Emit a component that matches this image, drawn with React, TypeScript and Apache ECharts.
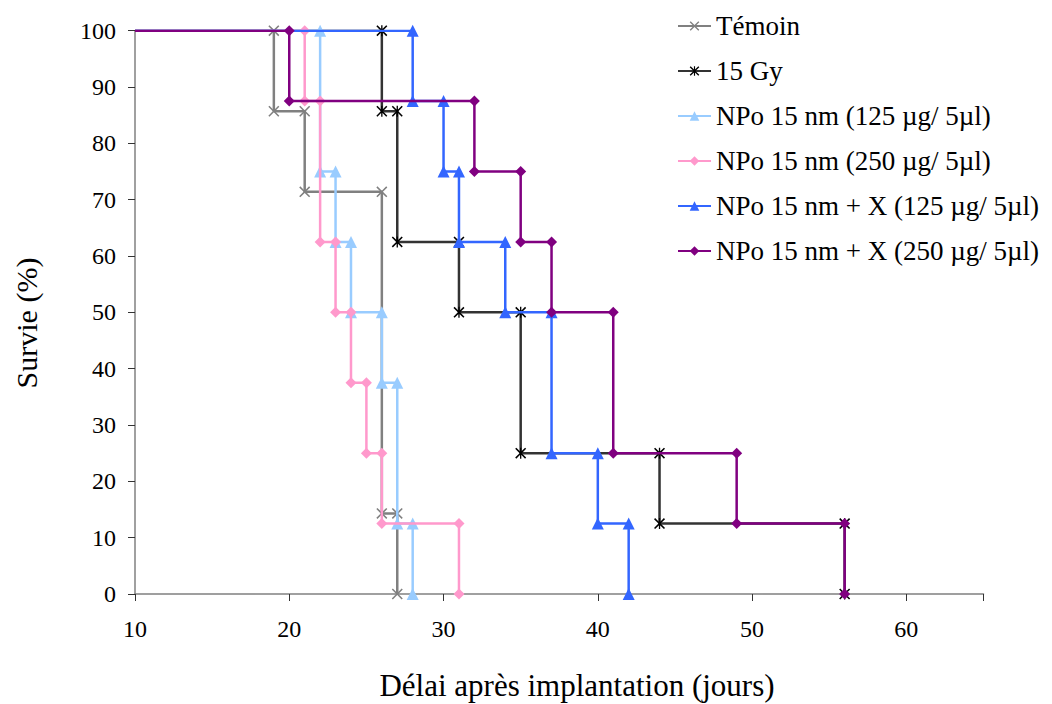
import React, { useEffect, useRef } from "react";
import * as echarts from "echarts";

const seriesNames = [
  "Témoin",
  "15 Gy",
  "NPo 15 nm (125 µg/ 5µl)",
  "NPo 15 nm (250 µg/ 5µl)",
  "NPo 15 nm + X (125 µg/ 5µl)",
  "NPo 15 nm + X (250 µg/ 5µl)",
];

const temoin: number[][] = [
  [10, 100], [19, 100], [19, 85.7], [21, 85.7], [21, 71.4], [26, 71.4], [26, 14.3], [27, 14.3], [27, 0],
];
const gy15: number[][] = [
  [10, 100], [26, 100], [26, 85.7], [27, 85.7], [27, 62.5], [31, 62.5], [31, 50], [35, 50], [35, 25],
  [44, 25], [44, 12.5], [56, 12.5], [56, 0],
];
const npo125: number[][] = [
  [10, 100], [22, 100], [22, 75], [23, 75], [23, 62.5], [24, 62.5], [24, 50], [26, 50], [26, 37.5],
  [27, 37.5], [27, 12.5], [28, 12.5], [28, 0],
];
const npo250: number[][] = [
  [10, 100], [21, 100], [21, 87.5], [22, 87.5], [22, 62.5], [23, 62.5], [23, 50], [24, 50], [24, 37.5],
  [25, 37.5], [25, 25], [26, 25], [26, 12.5], [31, 12.5], [31, 0],
];
const npoX125: number[][] = [
  [10, 100], [28, 100], [28, 87.5], [30, 87.5], [30, 75], [31, 75], [31, 62.5], [34, 62.5], [34, 50],
  [37, 50], [37, 25], [40, 25], [40, 12.5], [42, 12.5], [42, 0],
];
const npoX250: number[][] = [
  [10, 100], [20, 100], [20, 87.5], [32, 87.5], [32, 75], [35, 75], [35, 62.5], [37, 62.5], [37, 50],
  [41, 50], [41, 25], [49, 25], [49, 12.5], [56, 12.5], [56, 0],
];

const xTicks = [10, 20, 30, 40, 50, 60];
const yTicks = [0, 10, 20, 30, 40, 50, 60, 70, 80, 90, 100];

const CROSS =
  "path://M0,1L1,0L5,4L9,0L10,1L6,5L10,9L9,10L5,6L1,10L0,9L4,5Z";
const STAR =
  "path://M0,1L1,0L5,4L9,0L10,1L6,5L10,9L9,10L5,6L1,10L0,9L4,5Z M4.4,0L5.6,0L5.6,10L4.4,10Z";

const styles = [
  { line: "#808080", mark: "#808080", symbol: CROSS, size: 11 },
  { line: "#333333", mark: "#000000", symbol: STAR, size: 11 },
  { line: "#99CCFF", mark: "#99CCFF", symbol: "triangle", size: 12 },
  { line: "#FF99CC", mark: "#FF99CC", symbol: "diamond", size: 11 },
  { line: "#3366FF", mark: "#3366FF", symbol: "triangle", size: 12 },
  { line: "#800080", mark: "#800080", symbol: "diamond", size: 11 },
];

const allData = [temoin, gy15, npo125, npo250, npoX125, npoX250];

const FONT = "Liberation Serif";

export default function App() {
  const ref = useRef<HTMLDivElement>(null);
  useEffect(() => {
    if (!ref.current) return;
    const chart = echarts.init(ref.current, undefined, { renderer: "svg" });
    const series = allData.map((d, i) => ({
      name: seriesNames[i],
      type: "line",
      data: d.map((p, j) =>
        j === 0 ? { value: p, symbol: "none" } : { value: p }
      ),
      symbol: styles[i].symbol,
      symbolSize: styles[i].size,
      showAllSymbol: true,
      lineStyle: { color: styles[i].line, width: 2.5 },
      itemStyle: { color: styles[i].mark, borderWidth: 0 },
      emphasis: { disabled: true },
      z: 2 + i,
    }));
    chart.setOption({
      animation: false,
      textStyle: { fontFamily: FONT },
      grid: { left: 135, right: 68.5, top: 30.7, bottom: 110, containLabel: false },
      xAxis: {
        type: "value",
        min: 10,
        max: 65,
        interval: 10,
        splitLine: { show: false },
        axisLine: { lineStyle: { color: "#808080", width: 1.5 } },
        axisTick: { length: 7, lineStyle: { color: "#333" } },
        axisLabel: {
          color: "#000",
          fontFamily: FONT,
          fontSize: 24,
          margin: 23,
          formatter: (v: number) => (xTicks.includes(v) ? String(v) : ""),
        },
      },
      yAxis: {
        type: "value",
        min: 0,
        max: 100,
        interval: 10,
        splitLine: { show: false },
        axisLine: { show: true, lineStyle: { color: "#808080", width: 1.5 } },
        axisTick: { show: true, length: 7, lineStyle: { color: "#333" } },
        axisLabel: {
          color: "#000",
          fontFamily: FONT,
          fontSize: 24,
          margin: 19,
          formatter: (v: number) => (yTicks.includes(v) ? String(v) : ""),
        },
      },
      legend: {
        orient: "vertical",
        left: 677,
        top: 12.5,
        itemWidth: 33,
        itemHeight: 12,
        itemGap: 18,
        padding: 0,
        textStyle: { fontFamily: FONT, fontSize: 27, color: "#000" },
        data: seriesNames,
      },
      graphic: [
        {
          type: "text",
          x: 577,
          y: 685,
          style: {
            text: "Délai après implantation (jours)",
            font: `31px "${FONT}"`,
            fill: "#000",
            align: "center",
            verticalAlign: "middle",
          },
        },
        {
          type: "text",
          x: 26,
          y: 323,
          rotation: Math.PI / 2,
          style: {
            text: "Survie (%)",
            font: `30px "${FONT}"`,
            fill: "#000",
            align: "center",
            verticalAlign: "middle",
          },
        },
      ],
      series,
    });
    return () => chart.dispose();
  }, []);
  return <div ref={ref} style={{ width: 1052, height: 704, marginLeft: -8, marginTop: -8 }} />;
}
